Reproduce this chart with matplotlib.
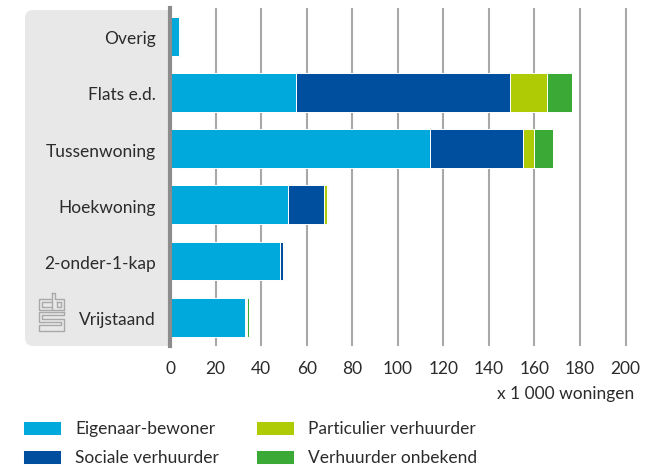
import matplotlib
matplotlib.use('Agg')
import matplotlib.pyplot as plt
from matplotlib.patches import FancyBboxPatch, Rectangle
from matplotlib.transforms import ScaledTranslation
import numpy as np

plt.rcParams['font.family'] = ['Lato', 'DejaVu Sans']

categories = ['Overig', 'Flats e.d.', 'Tussenwoning', 'Hoekwoning', '2-onder-1-kap', 'Vrijstaand']
eigenaar = [4.0, 55.5, 114.0, 52.0, 48.5, 33.0]
sociaal = [0.2, 94.0, 41.0, 15.5, 1.2, 0.3]
particulier = [0.1, 16.0, 5.0, 1.5, 0.4, 0.4]
onbekend = [0.6, 11.0, 8.0, 0.5, 0.3, 0.9]
xticks = list(range(0, 201, 20))

series = [('Eigenaar-bewoner', eigenaar, '#00a9dc'),
          ('Sociale verhuurder', sociaal, '#004f9f'),
          ('Particulier verhuurder', particulier, '#afcb05'),
          ('Verhuurder onbekend', onbekend, '#3aa935')]

W, H = 660, 468
fig = plt.figure(figsize=(W / 100, H / 100), dpi=100)

# overlay in pixels for panel and logo
bg = fig.add_axes([0, 0, 1, 1], zorder=0)
bg.set_xlim(0, W)
bg.set_ylim(H, 0)
bg.axis('off')
bg.add_patch(FancyBboxPatch((25, 10), 143, 336, boxstyle='round,pad=0,rounding_size=8',
                            fc='#e8e8e8', ec='none'))
bg.add_patch(Rectangle((150, 10), 18, 336, fc='#e8e8e8', ec='none'))

logo = '#a9a9a9'
for pts in [
    [(51, 299), (39, 299), (39, 310), (51, 310)],
    [(51, 302), (42, 302), (42, 307), (51, 307)],
    [(52, 293), (55, 293), (55, 299), (64, 299), (64, 310), (52, 310), (52, 293)],
    [(57, 302), (61, 302), (61, 307), (57, 307), (57, 302)],
    [(64, 312), (39, 312), (39, 322), (61, 322), (61, 325), (39, 325), (39, 331), (64, 331),
     (64, 319), (42, 319), (42, 315), (64, 315), (64, 312)],
]:
    xs, ys = zip(*pts)
    bg.plot(xs, ys, color=logo, lw=1.0)

ax = fig.add_axes([170 / W, 1 - 346 / H, 470 / W, 338 / H], zorder=1)
ax.patch.set_alpha(0)
y = np.arange(len(categories))
left = np.zeros(len(categories))
for name, vals, col in series:
    ax.barh(y, vals, left=left, height=0.69, color=col, edgecolor='white', linewidth=0.7,
            label=name, zorder=3)
    left += np.array(vals)

ax.set_xlim(0, 470 / 2.2775)
ax.set_ylim(5.51, -0.5)
ax.set_yticks(y, categories)
ax.set_xticks(xticks)
ax.grid(axis='x', color='#a8a8a8', lw=1.5, zorder=1)
ax.set_axisbelow(True)
ax.tick_params(length=0, labelsize=12.5, labelcolor='#2b2b2b')
ax.tick_params(axis='y', pad=10)
ax.tick_params(axis='x', pad=11)
# labels sit a bit lower than the bar centre
for lab in ax.get_yticklabels():
    lab.set_transform(lab.get_transform() + ScaledTranslation(0, -1.5 / 100, fig.dpi_scale_trans))
for s in ['top', 'right', 'bottom']:
    ax.spines[s].set_visible(False)
ax.spines['left'].set_color('#8c8c8c')
ax.spines['left'].set_linewidth(3)
ax.spines['left'].set_zorder(5)

fig.text(634 / W, 1 - 394.5 / H, 'x 1 000 woningen', ha='right', va='center', fontsize=12.5, color='#2b2b2b')

handles, labels = ax.get_legend_handles_labels()
fig.legend(handles, labels, ncol=2, loc='lower left', bbox_to_anchor=(23 / W, 2 / H), frameon=False,
           fontsize=12.5, labelcolor='#2b2b2b', handlelength=2.19, handleheight=0.92,
           handletextpad=0.8, columnspacing=2.13, labelspacing=0.73, borderpad=0, borderaxespad=0)

fig.savefig('out.png', dpi=100)
